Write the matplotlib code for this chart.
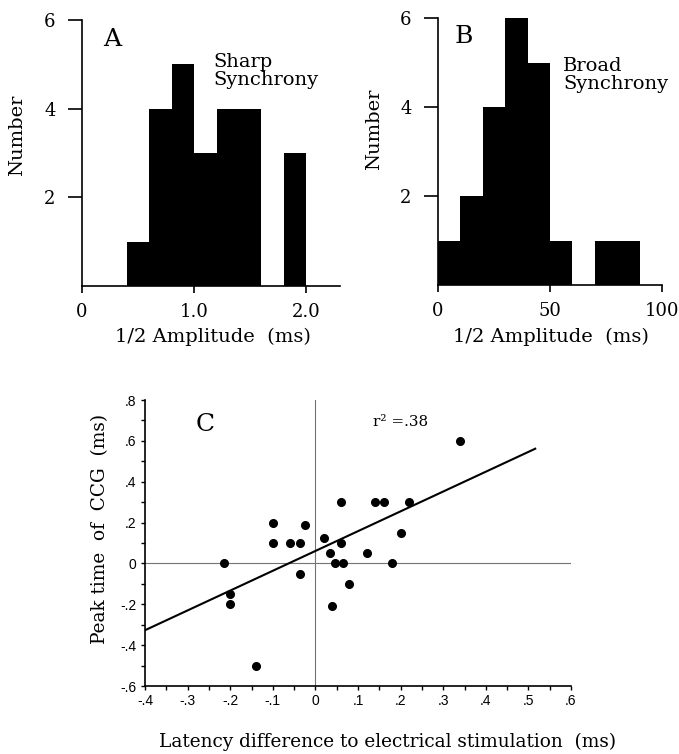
import numpy as np
import matplotlib
matplotlib.use("Agg")
from matplotlib import pyplot as plt
from matplotlib.ticker import MultipleLocator

# A: sharp synchrony, histogram of 1/2 amplitude (ms)
sharp_edges = [0.4, 0.6, 0.8, 1.0, 1.2, 1.4, 1.6, 1.8, 2.0]
sharp_counts = [1, 4, 5, 3, 4, 4, 0, 3]

# B: broad synchrony
broad_edges = [0, 10, 20, 30, 40, 50, 60, 70, 80, 90]
broad_counts = [1, 2, 4, 6, 5, 1, 0, 1, 1]

# C: latency difference vs peak time of CCG
latency_diff = [0.34, 0.06, 0.14, 0.16, 0.22, -0.10, -0.025, -0.10, -0.06, -0.035,
                0.02, 0.06, 0.20, 0.035, 0.12, -0.215, 0.045, 0.065, 0.18, -0.035,
                -0.20, -0.20, 0.08, 0.04, -0.14]
peak_time = [0.60, 0.30, 0.30, 0.30, 0.30, 0.20, 0.19, 0.10, 0.10, 0.10,
             0.125, 0.10, 0.15, 0.05, 0.05, 0.0, 0.0, 0.0, 0.0, -0.05,
             -0.15, -0.20, -0.10, -0.21, -0.50]
fit_slope = 0.97
fit_intercept = 0.061
fit_x = [-0.4, 0.516]

serif = "DejaVu Serif"
sans = "Liberation Sans"
W, H = 679, 754

fig = plt.figure(figsize=(W / 100, H / 100), dpi=100)


def px_axes(l, t, r, b):
    return fig.add_axes([l / W, 1 - b / H, (r - l) / W, (b - t) / H])


def hist_panel(ax, edges, counts, xlim, xticks, xticklabels):
    ax.stairs(counts, edges, fill=True, color="black", lw=0)
    ax.set_xlim(*xlim)
    ax.set_ylim(0, 6)
    for s in ["top", "right"]:
        ax.spines[s].set_visible(False)
    ax.spines["left"].set_linewidth(1.2)
    ax.spines["bottom"].set_linewidth(1.2)
    ax.set_yticks([2, 4, 6])
    ax.set_yticklabels(["2", "4", "6"], fontfamily=serif, fontsize=13)
    ax.set_xticks(xticks)
    ax.set_xticklabels(xticklabels, fontfamily=serif, fontsize=13)
    ax.tick_params(axis="y", direction="out", length=10, width=1.2, pad=9)
    ax.tick_params(axis="x", direction="out", length=5, width=1.2, pad=7)


# panel A
axA = px_axes(82, 20, 340, 286)
hist_panel(axA, sharp_edges, sharp_counts, (0, 2.3), [0, 1.0, 2.0], ["0", "1.0", "2.0"])
axA.text(0.19, 5.55, "A", fontfamily=serif, fontsize=18, ha="left", va="center")
axA.text(1.17, 5.25, "Sharp\nSynchrony", fontfamily=serif, fontsize=14,
         ha="left", va="top", linespacing=1.0)
fig.text(17 / W, 1 - 135 / H, "Number", rotation=90, fontfamily=serif, fontsize=14,
         ha="center", va="center")
fig.text(213 / W, 1 - 337 / H, "1/2 Amplitude  (ms)", fontfamily=serif, fontsize=14,
         ha="center", va="center")

# panel B
axB = px_axes(438, 18, 662, 285)
hist_panel(axB, broad_edges, broad_counts, (0, 100), [0, 50, 100], ["0", "50", "100"])
axB.text(7.6, 5.58, "B", fontfamily=serif, fontsize=18, ha="left", va="center")
axB.text(55.8, 5.12, "Broad\nSynchrony", fontfamily=serif, fontsize=14,
         ha="left", va="top", linespacing=1.0)
fig.text(374 / W, 1 - 129 / H, "Number", rotation=90, fontfamily=serif, fontsize=14,
         ha="center", va="center")
fig.text(551 / W, 1 - 337 / H, "1/2 Amplitude  (ms)", fontfamily=serif, fontsize=14,
         ha="center", va="center")

# panel C
axC = px_axes(145, 400, 571, 686)
axC.set_xlim(-0.4, 0.6)
axC.set_ylim(-0.6, 0.8)
axC.axhline(0, color="0.45", lw=0.8)
axC.axvline(0, color="0.45", lw=0.8)
line_x = np.array(fit_x)
axC.plot(line_x, fit_slope * line_x + fit_intercept, color="black", lw=1.5)
axC.plot(latency_diff, peak_time, "o", color="black", markersize=5.5)
for s in ["top", "right"]:
    axC.spines[s].set_visible(False)
axC.spines["left"].set_linewidth(1.2)
axC.spines["bottom"].set_linewidth(1.2)
xt = [-0.4, -0.3, -0.2, -0.1, 0, 0.1, 0.2, 0.3, 0.4, 0.5, 0.6]
yt = [-0.6, -0.4, -0.2, 0, 0.2, 0.4, 0.6, 0.8]
axC.set_xticks(xt)
axC.set_xticklabels(["-.4", "-.3", "-.2", "-.1", "0", ".1", ".2", ".3", ".4", ".5", ".6"],
                    fontfamily=sans, fontsize=10)
axC.set_yticks(yt)
axC.set_yticklabels(["-.6", "-.4", "-.2", "0", ".2", ".4", ".6", ".8"],
                    fontfamily=sans, fontsize=10)
axC.xaxis.set_minor_locator(MultipleLocator(0.05))
axC.yaxis.set_minor_locator(MultipleLocator(0.1))
axC.tick_params(which="both", direction="out", length=3, width=1.0, pad=3)
axC.text(-0.258, 0.68, "C", fontfamily=serif, fontsize=18, ha="center", va="center")
axC.text(0.135, 0.69, "r² =.38", fontfamily=serif, fontsize=11, ha="left", va="center")
fig.text(100 / W, 1 - 529 / H, "Peak time  of  CCG  (ms)", rotation=90, fontfamily=serif,
         fontsize=13.3, ha="center", va="center")
fig.text(388 / W, 1 - 742 / H, "Latency difference to electrical stimulation  (ms)",
         fontfamily=serif, fontsize=13.3, ha="center", va="center")

fig.savefig("out.png", dpi=100)
